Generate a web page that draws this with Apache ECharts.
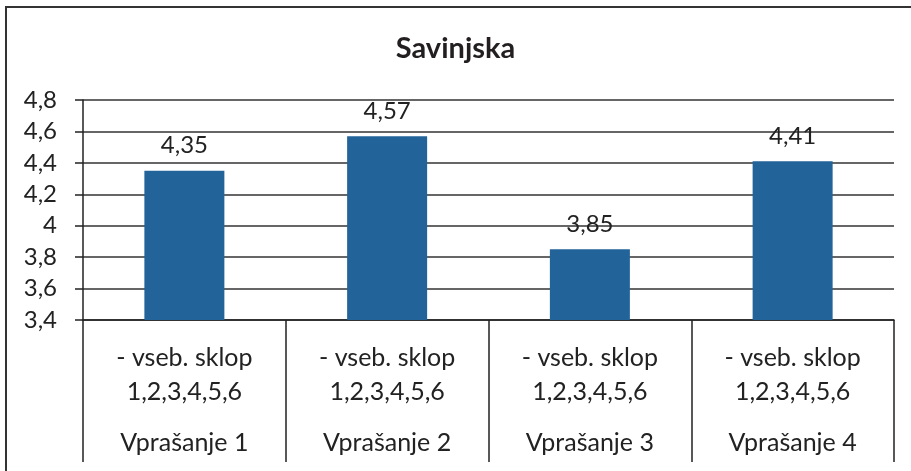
<!DOCTYPE html>
<html>
<head>
<meta charset="utf-8">
<script src="https://cdn.jsdelivr.net/npm/echarts@6/dist/echarts.min.js"></script>
<style>
  html, body { margin: 0; padding: 0; background: #fff; }
  #chart { width: 911px; height: 471px; }
</style>
</head>
<body>
<div id="chart"></div>
<script>
// data
const questions = ['Vprašanje 1', 'Vprašanje 2', 'Vprašanje 3', 'Vprašanje 4'];
const subLabels = ['- vseb. sklop\n1,2,3,4,5,6', '- vseb. sklop\n1,2,3,4,5,6', '- vseb. sklop\n1,2,3,4,5,6', '- vseb. sklop\n1,2,3,4,5,6'];
const values = [4.35, 4.57, 3.85, 4.41];

const FONT = 'Lato';
const comma = v => String(Number(v.toFixed(2))).replace('.', ',');

const chart = echarts.init(document.getElementById('chart'));
chart.setOption({
  backgroundColor: '#fff',
  animation: false,
  textStyle: { fontFamily: FONT },
  title: {
    text: 'Savinjska',
    left: 'center',
    top: 29,
    textStyle: { fontFamily: FONT, fontWeight: 'bold', fontSize: 29, color: '#231f20' }
  },
  graphic: [{
    type: 'rect',
    shape: { x: 6, y: 7, width: 940, height: 500 },
    style: { fill: 'none', stroke: '#333', lineWidth: 2 },
    silent: true
  }],
  grid: { left: 83, right: 17, top: 100, bottom: 151 },
  xAxis: [{
    type: 'category',
    data: subLabels,
    position: 'bottom',
    axisLine: { show: true, onZero: false, lineStyle: { color: '#222', width: 1.5 } },
    axisTick: { show: true, length: 142, lineStyle: { color: '#222', width: 1.5 } },
    axisLabel: { margin: 21, lineHeight: 34, fontSize: 25, color: '#222', fontFamily: FONT }
  }, {
    type: 'category',
    data: questions,
    position: 'bottom',
    offset: 100,
    axisLine: { show: false, onZero: false },
    axisTick: { show: false },
    axisLabel: { margin: 6, lineHeight: 34, fontSize: 25, color: '#222', fontFamily: FONT }
  }],
  yAxis: {
    type: 'value',
    min: 3.4,
    max: 4.8,
    interval: 0.2,
    axisLine: { show: true, lineStyle: { color: '#222', width: 1.5 } },
    axisTick: { show: true, length: 8, lineStyle: { color: '#222', width: 1.5 } },
    axisLabel: { margin: 26, fontSize: 24, color: '#222', fontFamily: FONT, formatter: comma },
    splitLine: { lineStyle: { color: '#333', width: 1.5 } }
  },
  series: [{
    type: 'bar',
    data: values,
    barWidth: 80,
    itemStyle: { color: '#22639a' },
    label: {
      show: true,
      position: 'top',
      distance: 13,
      fontSize: 24,
      color: '#222',
      fontFamily: FONT,
      formatter: p => comma(p.value)
    }
  }]
});
</script>
</body>
</html>
